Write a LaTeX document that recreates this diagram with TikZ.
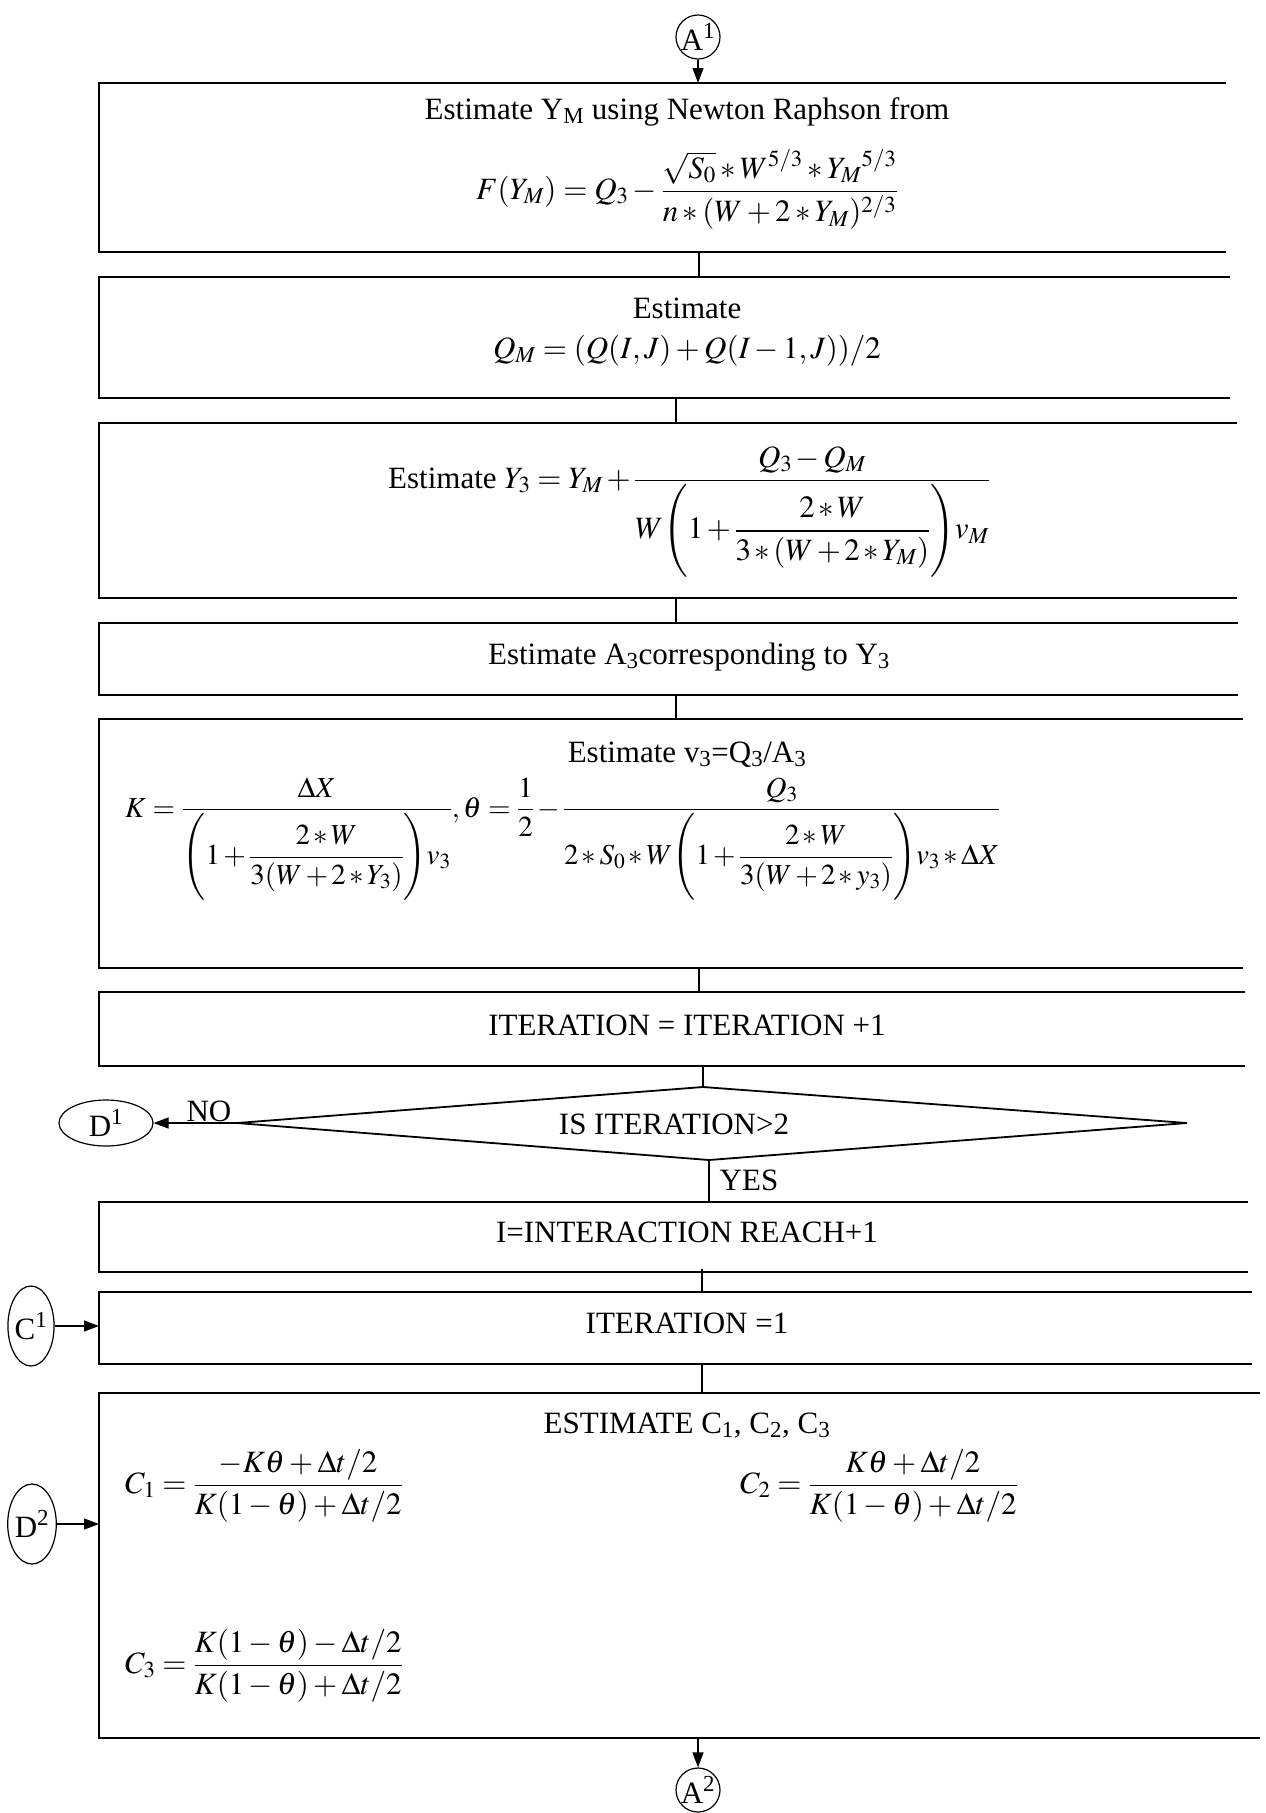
\documentclass[tikz,border=0pt]{standalone}
\usepackage{amsmath}
\usepackage{mathptmx}
\usepackage[no-math]{fontspec}
\setmainfont{Liberation Serif}
\usetikzlibrary{arrows.meta,shapes.geometric}
\newcommand\bigfs{\fontsize{31}{37}\selectfont}
\newcommand\midfs{\fontsize{29}{35}\selectfont}
\tikzset{
  boxline/.style={line width=1.8pt},
  conn/.style={line width=1.2pt},
  arr/.style={line width=1.2pt,-{Triangle[length=15pt,width=11pt]}},
  txt/.style={font=\bigfs,inner sep=0pt,anchor=base},
  txtw/.style={font=\bigfs,inner sep=0pt,anchor=base west},
  tight/.style={execute at begin node={\medmuskip=2mu\relax}},
  circ/.style={draw,line width=1.2pt,circle,minimum size=44pt,inner sep=0pt,font=\bigfs},
  wideell/.style={draw,line width=1.2pt,ellipse,minimum width=94pt,minimum height=46pt,inner sep=0pt,font=\bigfs},
  tallell/.style={draw,line width=1.2pt,ellipse,minimum width=46pt,minimum height=80pt,inner sep=0pt,font=\bigfs},
}
\newcommand\openbox[3]{\draw[boxline] (#3,#1) -- (99,#1) -- (99,#2) -- (#3,#2);}
\begin{document}
\begin{tikzpicture}[x=1pt,y=-1pt]
\useasboundingbox[fill=white] (0,0) rectangle (1266,1813);

% boxes
\openbox{83}{252}{1226}
\openbox{277}{398}{1230}
\openbox{423}{598}{1237}
\openbox{623}{695}{1238}
\openbox{719}{968}{1243}
\openbox{992}{1066}{1245}
\openbox{1202}{1272}{1248}
\openbox{1292}{1364}{1252}
\openbox{1393}{1738}{1260}

% connection coordinates
\coordinate (b1t) at (698,83);
\coordinate (b1b) at (699,252);
\coordinate (b2t) at (699,277);
\coordinate (b2b) at (676,398);
\coordinate (b3t) at (676,423);
\coordinate (b3b) at (676,598);
\coordinate (b4t) at (676,623);
\coordinate (b4b) at (676,695);
\coordinate (b5t) at (676,719);
\coordinate (b5b) at (699,968);
\coordinate (b6t) at (699,992);
\coordinate (b6b) at (703,1066);
\coordinate (dt) at (703,1087);
\coordinate (dr) at (1187,1123);
\coordinate (db) at (709,1160);
\coordinate (dl) at (237,1123);
\coordinate (b7t) at (709,1202);
\coordinate (b7b) at (702,1269);
\coordinate (b8t) at (702,1292);
\coordinate (b8l) at (99,1326);
\coordinate (b8b) at (702,1364);
\coordinate (b9t) at (702,1393);
\coordinate (b9l) at (99,1524);
\coordinate (b9b) at (698,1738);

% diamond
\draw[boxline] (dt) -- (dr) -- (db) -- (dl) -- cycle;

% off-page connectors
\node[circ] (A1) at (698,37) {A\textsuperscript{1}};
\node[circ] (A2) at (698,1790) {A\textsuperscript{2}};
\node[wideell] (D1) at (106,1123) {D\textsuperscript{1}};
\node[tallell] (C1) at (31,1326) {C\textsuperscript{1}};
\node[tallell] (D2) at (32,1524) {D\textsuperscript{2}};

% connectors
\draw[arr] (A1) -- (b1t);
\draw[conn] (b1b) -- (b2t);
\draw[conn] (b2b) -- (b3t);
\draw[conn] (b3b) -- (b4t);
\draw[conn] (b4b) -- (b5t);
\draw[conn] (b5b) -- (b6t);
\draw[conn] (b6b) -- (dt);
\draw[arr] (dl) -- (D1);
\draw[conn] (db) -- (b7t);
\draw[conn] (b7b) -- (b8t);
\draw[conn] (b8b) -- (b9t);
\draw[arr] (C1) -- (b8l);
\draw[arr] (D2) -- (b9l);
\draw[arr] (b9b) -- (A2);

% texts
\node[txt] (t1) at (687,119) {Estimate Y\textsubscript{M} using Newton Raphson from};
\node[txt] (f1) at (687,199) {$\displaystyle F(Y_M)=Q_3-\frac{\sqrt{S_0}*W^{5/3}*{Y_M}^{5/3}}{n*(W+2*Y_M)^{2/3}}$};
\node[txt] (t2) at (687,318) {Estimate};
\node[txt] (f2) at (687,358) {$Q_M=(Q(I,J)+Q(I-1,J))/2$};
\node[txtw,tight] (f3) at (388,488) {Estimate $\displaystyle Y_3=Y_M+\frac{Q_3-Q_M}{W\Biggl(1+\dfrac{2*W}{3*(W+2*Y_M)}\Biggr)v_M}$};
\node[txt] (t4) at (689,664) {Estimate A\textsubscript{3}corresponding to Y\textsubscript{3}};
\node[txt] (t5) at (687,762) {Estimate v\textsubscript{3}=Q\textsubscript{3}/A\textsubscript{3}};
\node[txtw,tight,font=\midfs] (f5) at (125,817) {$\displaystyle K=\frac{\Delta X}{\Biggl(1+\dfrac{2*W}{3(W+2*Y_3)}\Biggr)v_3},\theta=\frac{1}{2}-\frac{Q_3}{2*S_0*W\Biggl(1+\dfrac{2*W}{3(W+2*y_3)}\Biggr)v_3*\Delta X}$};
\node[txt] (t6) at (687,1035) {ITERATION = ITERATION +1};
\node[txt] (td) at (674,1134) {IS ITERATION>2};
\node[txt] (no) at (209,1121) {NO};
\node[txt] (yes) at (749,1190) {YES};
\node[txt] (t7) at (687,1242) {I=INTERACTION REACH+1};
\node[txt] (t8) at (687,1333) {ITERATION =1};
\node[txt] (t9) at (687,1433) {ESTIMATE C\textsubscript{1}, C\textsubscript{2}, C\textsubscript{3}};
\node[txtw] (c1) at (125,1493) {$\displaystyle C_1=\frac{-K\theta+\Delta t/2}{K(1-\theta)+\Delta t/2}$};
\node[txtw] (c2) at (740,1493) {$\displaystyle C_2=\frac{K\theta+\Delta t/2}{K(1-\theta)+\Delta t/2}$};
\node[txtw] (c3) at (125,1673) {$\displaystyle C_3=\frac{K(1-\theta)-\Delta t/2}{K(1-\theta)+\Delta t/2}$};
\end{tikzpicture}
\end{document}
